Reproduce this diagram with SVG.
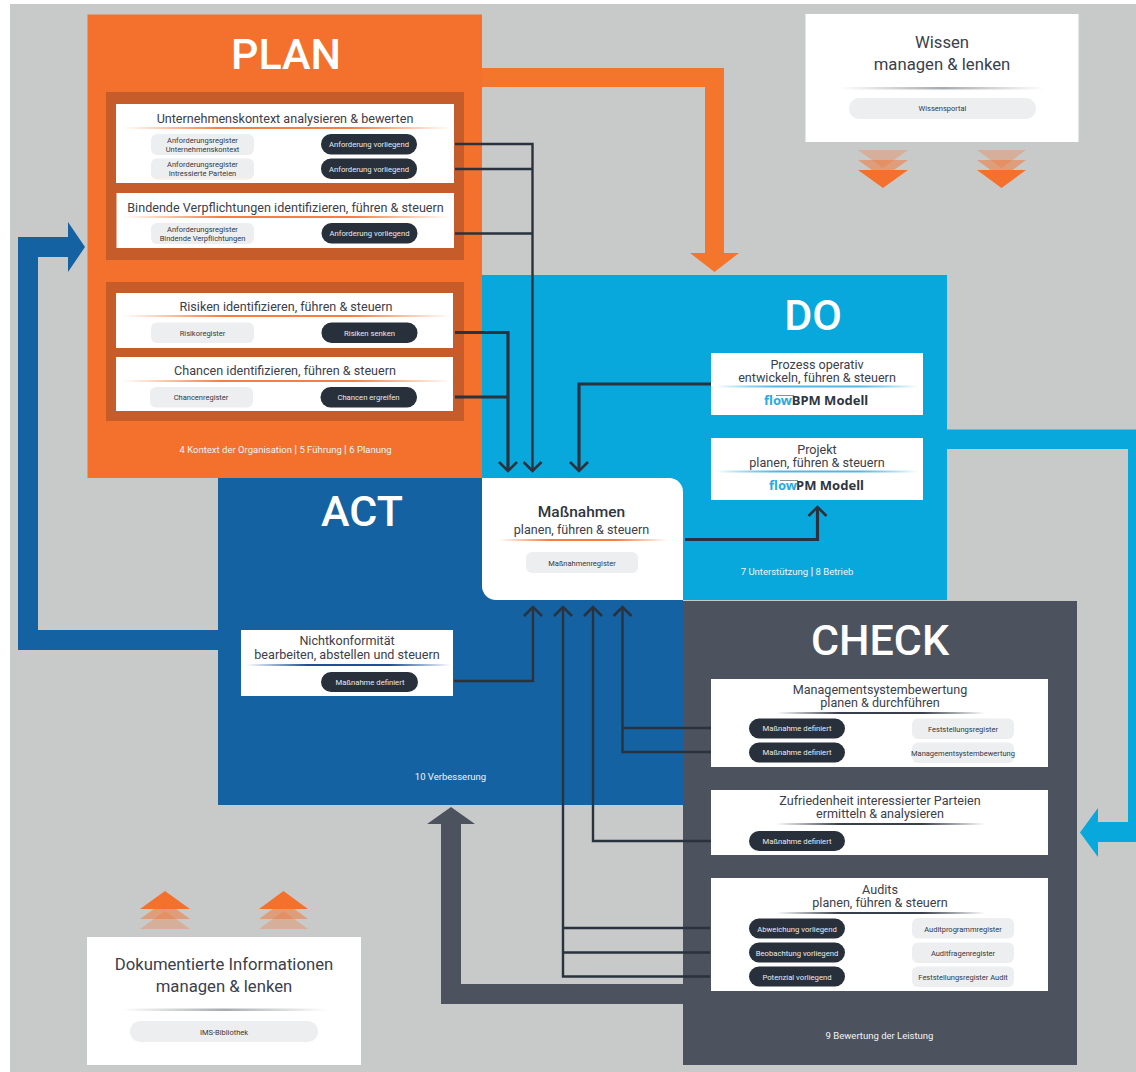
<svg xmlns="http://www.w3.org/2000/svg" width="1136" height="1072" viewBox="0 0 1136 1072">
<style>
text{font-family:Roboto,"Liberation Sans",sans-serif;text-anchor:middle}
.big{fill:#fff;font-size:43px;font-weight:500}
.t{fill:#3b404b;font-size:12.600px}
.t2{fill:#3b404b;font-size:16.700px}
.logo{font-family:"Noto Sans","Liberation Sans",sans-serif;font-size:13px;font-weight:700}
.card{fill:#fff}
.lp{fill:#edeef0}
.dp{fill:#28303c}
.ls{fill:#33383f;font-size:7.500px}
.ds{fill:#e8eaec;font-size:7.700px}
.f{fill:#f2f4f6;font-size:9.500px}
.f tspan{font-weight:700;font-size:11px}
.c{fill:none;stroke:#2a323d;stroke-width:2.400;marker-end:url(#a)}
.n{fill:none;stroke:#2a323d;stroke-width:2.400}
.th{stroke-width:3.200}
</style>
<defs>
<marker id="a" viewBox="-13 -13 26 26" markerWidth="26" markerHeight="26" refX="0" refY="0" orient="auto" markerUnits="userSpaceOnUse"><path d="M-9,-9L0,0L-9,9" fill="none" stroke="#2a323d" stroke-width="2.600"/></marker>
<linearGradient id="go"><stop offset="0" stop-color="#f4712d" stop-opacity="0"/><stop offset=".3" stop-color="#f4712d" stop-opacity=".9"/><stop offset=".7" stop-color="#f4712d" stop-opacity=".9"/><stop offset="1" stop-color="#f4712d" stop-opacity="0"/></linearGradient>
<linearGradient id="gb"><stop offset="0" stop-color="#08a8dc" stop-opacity="0"/><stop offset=".3" stop-color="#58b4e4"/><stop offset=".7" stop-color="#58b4e4"/><stop offset="1" stop-color="#08a8dc" stop-opacity="0"/></linearGradient>
<linearGradient id="gn"><stop offset="0" stop-color="#1f4f9a" stop-opacity="0"/><stop offset=".3" stop-color="#1f4f9a"/><stop offset=".7" stop-color="#1f4f9a"/><stop offset="1" stop-color="#1f4f9a" stop-opacity="0"/></linearGradient>
<linearGradient id="gd"><stop offset="0" stop-color="#3a404b" stop-opacity="0"/><stop offset=".3" stop-color="#3a404b"/><stop offset=".7" stop-color="#3a404b"/><stop offset="1" stop-color="#3a404b" stop-opacity="0"/></linearGradient>
<linearGradient id="gg"><stop offset="0" stop-color="#a8abad" stop-opacity="0"/><stop offset=".5" stop-color="#a8abad"/><stop offset="1" stop-color="#a8abad" stop-opacity="0"/></linearGradient>
</defs>
<rect width="1136" height="1072" fill="#fff"/>
<rect x="10" y="4" width="1126" height="1068" fill="#c8cac9"/>

<g id="flows">
<path fill="#f4752c" d="M482 68H724V253H739L714.500 272L690 253H705V87H482Z"/>
<path fill="#08a8dc" d="M947 429.500H1136V842H1098V857L1080 832.500L1098 808V822H1128V449H947Z"/>
<path fill="#1562a2" d="M218 650H18V237H68V222L85 247L68 272V257H38V630H218Z"/>
<path fill="#4c535e" d="M683 1004H441V824H427L451 807L475 824H461V984H683Z"/>
</g>

<g id="act"><rect x="218" y="478" width="465" height="327" fill="#1562a2"/><text class="big" x="362" y="526">ACT</text><text class="f" x="450.500" y="780">10 Verbesserung</text></g>
<g id="do"><path d="M482 275H947V600H496V586H482Z" fill="#08a8dc"/><text class="big" x="813" y="330">DO</text><text class="f" x="797" y="575">7 Unterstützung <tspan>|</tspan> 8 Betrieb</text></g>
<g id="check"><rect x="683" y="601" width="394" height="464" fill="#4c535e"/><text class="big" x="880" y="655">CHECK</text><text class="f" x="879.500" y="1039">9 Bewertung der Leistung</text></g>
<g id="plan"><rect x="87.500" y="14.500" width="394.500" height="463.500" fill="#f4712d"/><text class="big" x="286" y="69">PLAN</text><rect x="106" y="92" width="358" height="168" fill="#c55c2a"/><rect x="106" y="282" width="358" height="139" fill="#c55c2a"/><text class="f" x="285.500" y="453">4 Kontext der Organisation <tspan>|</tspan> 5 Führung <tspan>|</tspan> 6 Planung</text></g>

<g id="connectors">
<path class="c" d="M455 144H532.500V471"/>
<path class="n" d="M455 169H532.500M455 233.500H532.500"/>
<path class="c th" d="M455 332.500H508V471"/>
<path class="n th" d="M455 397H508"/>
<path class="c th" d="M711 384H579V471"/>
<path class="c th" d="M685 539.500H817.500V507"/>
<path class="c" d="M454 681H533V607"/>
<path class="c" d="M711 752H622.500V607"/>
<path class="n" d="M711 728H622.500"/>
<path class="c" d="M711 841H593V607"/>
<path class="c" d="M710 976.500H563V607"/>
<path class="n" d="M710 928H563M710 952.500H563"/>
</g>

<g id="unternehmenskontext"><rect class="card" x="116" y="104" width="338" height="79"/>
<text class="t" x="285" y="123">Unternehmenskontext analysieren &amp; bewerten</text><rect x="122" y="127" width="330" height="2" fill="url(#go)"/>
<rect class="lp" x="151" y="134" width="103" height="21" rx="6"/><text class="ls" x="202.500" y="142.500">Anforderungsregister</text><text class="ls" x="202.500" y="151.500">Unternehmenskontext</text>
<rect class="lp" x="151" y="158.500" width="103" height="21" rx="6"/><text class="ls" x="202.500" y="167">Anforderungsregister</text><text class="ls" x="202.500" y="176">Intressierte Parteien</text>
<rect class="dp" x="321" y="134" width="96" height="20.500" rx="10"/><text class="ds" x="369" y="147">Anforderung vorliegend</text>
<rect class="dp" x="321" y="158.500" width="96" height="20.500" rx="10"/><text class="ds" x="369" y="171.500">Anforderung vorliegend</text></g>

<g id="verpflichtungen"><rect class="card" x="116.500" y="193" width="337.500" height="55"/>
<text class="t" x="285.500" y="212">Bindende Verpflichtungen identifizieren, führen &amp; steuern</text><rect x="122" y="216" width="330" height="2" fill="url(#go)"/>
<rect class="lp" x="151" y="223" width="103" height="21" rx="6"/><text class="ls" x="202.500" y="231.500">Anforderungsregister</text><text class="ls" x="202.500" y="240.500">Bindende Verpflichtungen</text>
<rect class="dp" x="321.500" y="223" width="96" height="20.500" rx="10"/><text class="ds" x="369.500" y="236">Anforderung vorliegend</text></g>

<g id="risiken"><rect class="card" x="116" y="293" width="337" height="55"/>
<text class="t" x="286" y="311">Risiken identifizieren, führen &amp; steuern</text><rect x="122" y="315" width="330" height="2" fill="url(#go)"/>
<rect class="lp" x="151" y="322.500" width="103" height="20.500" rx="6"/><text class="ls" x="202.500" y="335.500">Risikoregister</text>
<rect class="dp" x="321.500" y="322.500" width="96" height="20.500" rx="10"/><text class="ds" x="369.500" y="335.500">Risiken senken</text></g>

<g id="chancen"><rect class="card" x="116" y="357" width="337" height="54"/>
<text class="t" x="285" y="375">Chancen identifizieren, führen &amp; steuern</text><rect x="122" y="380" width="330" height="2" fill="url(#go)"/>
<rect class="lp" x="150" y="387" width="103" height="20.500" rx="6"/><text class="ls" x="201" y="400">Chancenregister</text>
<rect class="dp" x="320.500" y="387" width="96.500" height="20.500" rx="10"/><text class="ds" x="368.500" y="400">Chancen ergreifen</text></g>

<g id="massnahmen"><path fill="#fff" d="M482 478H669A14 14 0 0 1 683 492V600H496A14 14 0 0 1 482 586Z"/>
<text x="581.500" y="517" fill="#30353f" style="font-size:15.500px;font-weight:500">Maßnahmen</text>
<text class="t" x="581.500" y="534">planen, führen &amp; steuern</text><rect x="498" y="539" width="169" height="2" fill="url(#go)"/>
<rect class="lp" x="526" y="552" width="112" height="21" rx="6"/><text class="ls" x="582" y="566">Maßnahmenregister</text></g>

<g id="prozess"><rect class="card" x="711" y="353" width="212" height="62"/>
<text class="t" x="817" y="368.500">Prozess operativ</text><text class="t" x="817" y="382">entwickeln, führen &amp; steuern</text><rect x="716" y="385.500" width="202" height="2" fill="url(#gb)"/>
<text class="logo" x="778" y="405" fill="#29a9e0">flow</text><text class="logo" x="830" y="405" fill="#30353f">BPM Modell</text><rect x="776" y="395" width="18" height="1" fill="#8a8f96"/></g>

<g id="projekt"><rect class="card" x="711" y="438" width="212" height="62"/>
<text class="t" x="817" y="453.500">Projekt</text><text class="t" x="817" y="467">planen, führen &amp; steuern</text><rect x="716" y="470.500" width="202" height="2" fill="url(#gb)"/>
<text class="logo" x="783" y="490" fill="#29a9e0">flow</text><text class="logo" x="830" y="490" fill="#30353f">PM Modell</text><rect x="780" y="480" width="18" height="1" fill="#8a8f96"/></g>

<g id="nichtkonformitaet"><rect class="card" x="241" y="630" width="212" height="66"/>
<text class="t" x="347" y="645">Nichtkonformität</text><text class="t" x="347" y="659">bearbeiten, abstellen und steuern</text><rect x="246" y="664" width="205" height="2" fill="url(#gn)"/>
<rect class="dp" x="321" y="672" width="97" height="20" rx="10"/><text class="ds" x="370" y="684.500">Maßnahme definiert</text></g>

<g id="managementbewertung"><rect class="card" x="711" y="679" width="337" height="88"/>
<text class="t" x="880" y="693.500">Managementsystembewertung</text><text class="t" x="880" y="707">planen &amp; durchführen</text><rect x="776" y="712" width="209" height="2" fill="url(#gd)"/>
<rect class="dp" x="749" y="718.500" width="96" height="20" rx="10"/><text class="ds" x="797" y="731">Maßnahme definiert</text>
<rect class="dp" x="749" y="742.500" width="96" height="20" rx="10"/><text class="ds" x="797" y="755">Maßnahme definiert</text>
<rect class="lp" x="912" y="718.500" width="102" height="20.500" rx="6"/><text class="ls" x="963" y="731.500">Feststellungsregister</text>
<rect class="lp" x="912" y="742.500" width="102" height="20.500" rx="6"/><text class="ls" x="963" y="755.500">Managementsystembewertung</text></g>

<g id="zufriedenheit"><rect class="card" x="711" y="790" width="337" height="65"/>
<text class="t" x="880" y="804.500">Zufriedenheit interessierter Parteien</text><text class="t" x="880" y="818">ermitteln &amp; analysieren</text><rect x="776" y="823" width="209" height="2" fill="url(#gd)"/>
<rect class="dp" x="749" y="831" width="96" height="20" rx="10"/><text class="ds" x="797" y="844">Maßnahme definiert</text></g>

<g id="audits"><rect class="card" x="711" y="878" width="337" height="113"/>
<text class="t" x="880" y="893.500">Audits</text><text class="t" x="880" y="907">planen, führen &amp; steuern</text><rect x="776" y="912" width="209" height="2" fill="url(#gd)"/>
<rect class="dp" x="749" y="918.500" width="96" height="20" rx="10"/><text class="ds" x="797" y="931.500">Abweichung vorliegend</text>
<rect class="dp" x="749" y="942.500" width="96" height="20" rx="10"/><text class="ds" x="797" y="955.500">Beobachtung vorliegend</text>
<rect class="dp" x="749" y="966.500" width="96" height="20" rx="10"/><text class="ds" x="797" y="979.500">Potenzial vorliegend</text>
<rect class="lp" x="912" y="918" width="102" height="20.500" rx="6"/><text class="ls" x="963" y="931.500">Auditprogrammregister</text>
<rect class="lp" x="912" y="942.500" width="102" height="20.500" rx="6"/><text class="ls" x="963" y="955.500">Auditfragenregister</text>
<rect class="lp" x="912" y="966.500" width="102" height="20.500" rx="6"/><text class="ls" x="963" y="979.500">Feststellungsregister Audit</text></g>

<g id="wissen"><rect class="card" x="805.500" y="14" width="273" height="128"/>
<text class="t2" x="942" y="48">Wissen</text><text class="t2" x="942" y="70">managen &amp; lenken</text><rect x="840" y="87" width="205" height="2.500" fill="url(#gg)"/>
<rect class="lp" x="849" y="98" width="187" height="21" rx="10"/><text class="ls" x="942.500" y="111">Wissensportal</text>
<g fill="#f4712d"><path opacity=".3" d="M858 150H908L883 168Z"/><path opacity=".5" d="M858 160H908L883 178Z"/><path d="M858 170H908L883 188Z"/>
<path opacity=".3" d="M977 150H1026L1001.500 168Z"/><path opacity=".5" d="M977 160H1026L1001.500 178Z"/><path d="M977 170H1026L1001.500 188Z"/></g></g>

<g id="dokumente"><rect class="card" x="87" y="937" width="274" height="128"/>
<text class="t2" x="224" y="970">Dokumentierte Informationen</text><text class="t2" x="224" y="992">managen &amp; lenken</text><rect x="122" y="1008.500" width="205" height="2.500" fill="url(#gg)"/>
<rect class="lp" x="130" y="1021" width="188" height="21" rx="10"/><text class="ls" x="224" y="1035">IMS-Bibliothek</text>
<g fill="#f4712d"><path opacity=".3" d="M140 929H190L165 911Z"/><path opacity=".5" d="M140 919H190L165 901Z"/><path d="M140 909H190L165 891Z"/>
<path opacity=".3" d="M259 929H308L283.500 911Z"/><path opacity=".5" d="M259 919H308L283.500 901Z"/><path d="M259 909H308L283.500 891Z"/></g></g>
</svg>
